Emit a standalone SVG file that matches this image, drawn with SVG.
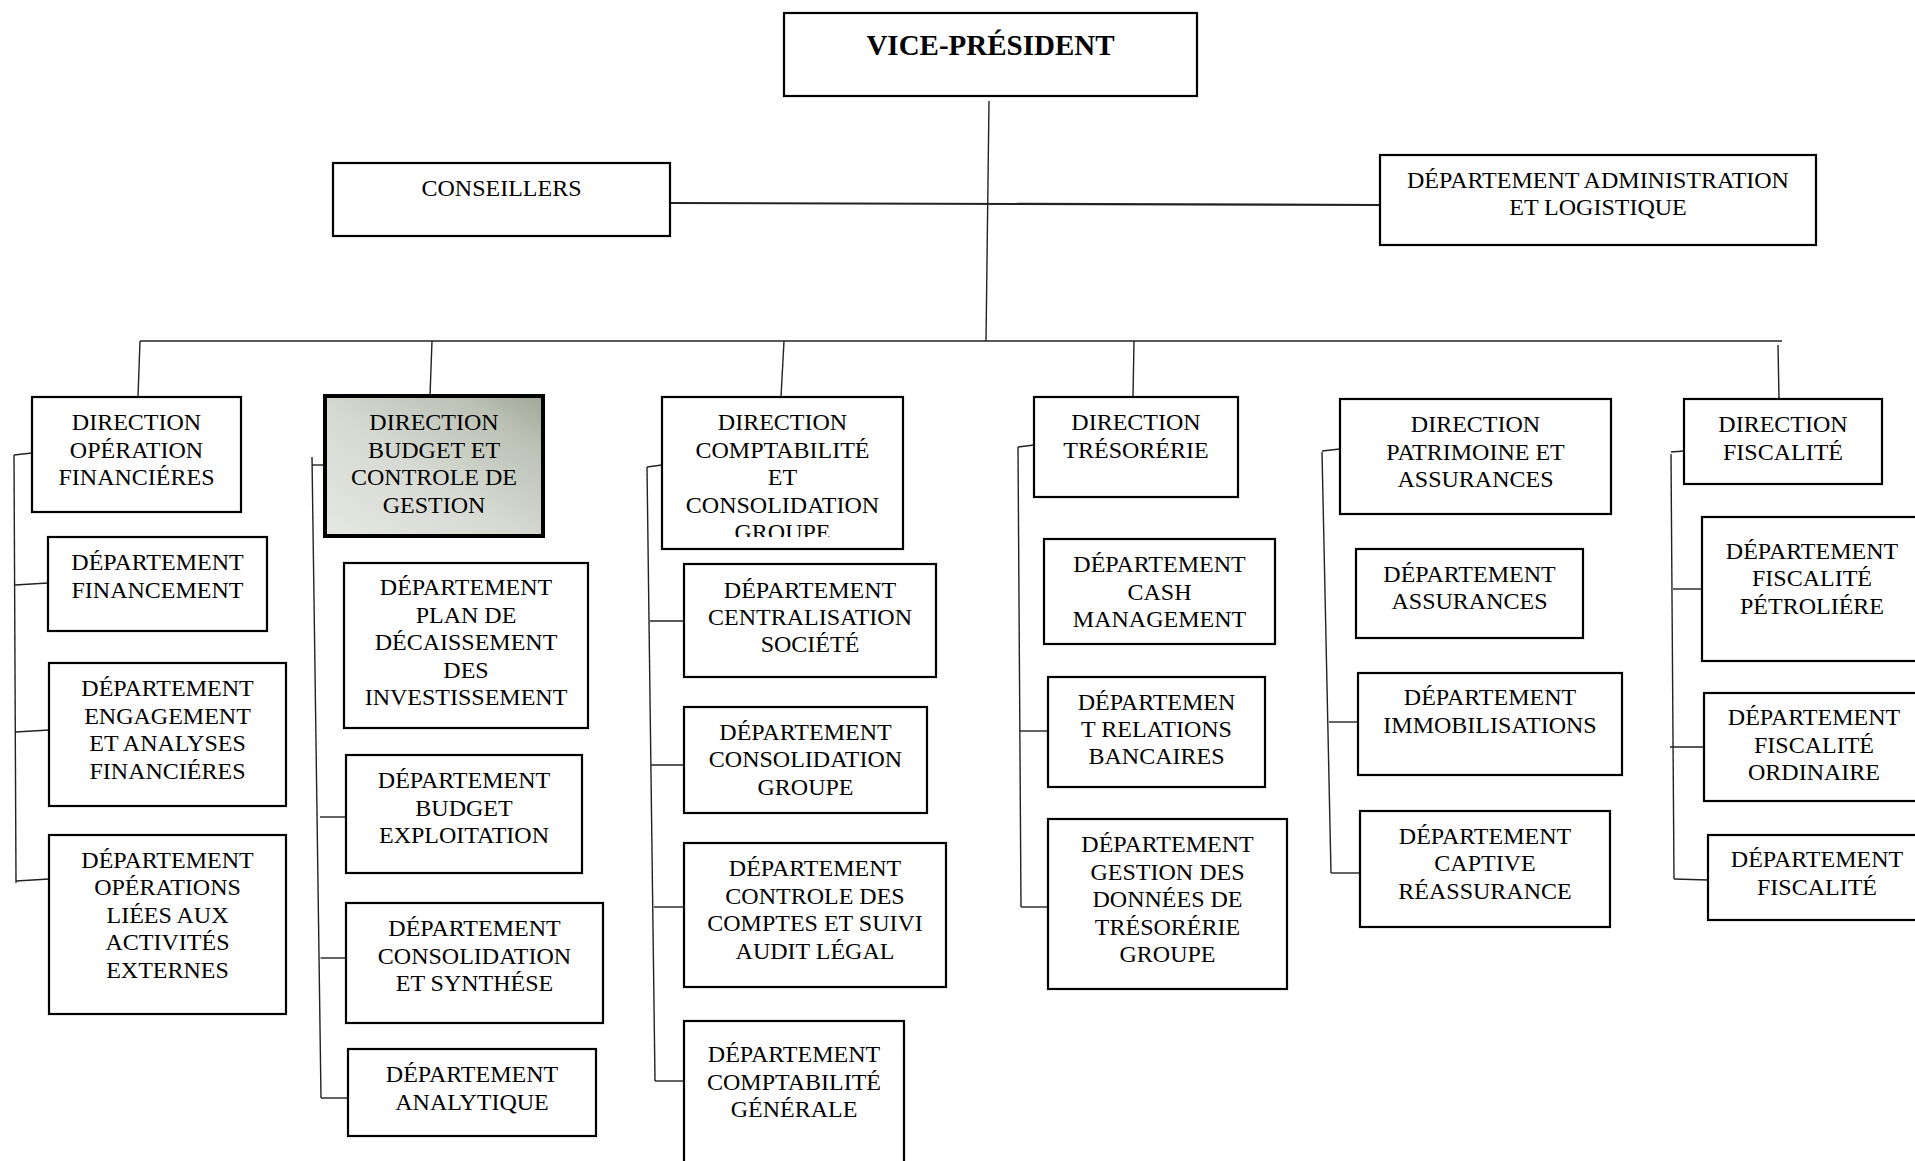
<svg xmlns="http://www.w3.org/2000/svg" width="1915" height="1161" viewBox="0 0 1915 1161">
  <style>
    .box { fill: #ffffff; stroke: #000000; stroke-width: 2.2; }
    .hl { fill: url(#hlGrad); stroke: #000000; stroke-width: 4; }
    .t { font-family: "Liberation Serif", "Times New Roman", serif; font-size: 24px; fill: #000000; text-anchor: middle; }
    .tb { font-family: "Liberation Serif", "Times New Roman", serif; font-size: 29px; font-weight: bold; fill: #000000; text-anchor: middle; }
    .ln { fill: none; stroke: #222222; stroke-width: 1.4; }
    .ln2 { fill: none; stroke: #222222; stroke-width: 2.2; }
  </style>
  <defs>
    <linearGradient id="hlGrad" x1="0" y1="1" x2="1" y2="0">
      <stop offset="0" stop-color="#e6e8e3"/>
      <stop offset="0.45" stop-color="#d6dad2"/>
      <stop offset="0.8" stop-color="#bcc2b6"/>
      <stop offset="1" stop-color="#9fa796"/>
    </linearGradient>
    <clipPath id="clipD3">
      <rect x="662" y="397" width="241" height="140"/>
    </clipPath>
  </defs>
  <rect x="0" y="0" width="1915" height="1161" fill="#ffffff"/>

  <!-- connectors -->
  <g id="connectors">
    <line class="ln" x1="989" y1="101" x2="986" y2="341"/>
    <line class="ln2" x1="670" y1="203" x2="1380" y2="205"/>
    <line class="ln" x1="140" y1="341" x2="1782" y2="341"/>
    <line class="ln" x1="140" y1="341" x2="138" y2="397"/>
    <line class="ln" x1="432" y1="341" x2="430" y2="396"/>
    <line class="ln" x1="784" y1="341" x2="781" y2="397"/>
    <line class="ln" x1="1134" y1="341" x2="1133" y2="397"/>
    <line class="ln" x1="1778" y1="345" x2="1779" y2="399"/>

    <!-- branch 1 -->
    <line class="ln" x1="14" y1="455" x2="16" y2="883"/>
    <line class="ln" x1="14" y1="455" x2="32" y2="453"/>
    <line class="ln" x1="15" y1="585" x2="48" y2="583"/>
    <line class="ln" x1="15.5" y1="732" x2="49" y2="730"/>
    <line class="ln" x1="16" y1="881" x2="49" y2="879"/>

    <!-- branch 2 -->
    <line class="ln" x1="312" y1="457" x2="321" y2="1098"/>
    <line class="ln" x1="312" y1="465" x2="325" y2="465"/>
    <line class="ln" x1="320" y1="817" x2="346" y2="817"/>
    <line class="ln" x1="320.5" y1="958" x2="346" y2="958"/>
    <line class="ln" x1="321" y1="1098" x2="348" y2="1098"/>

    <!-- branch 3 -->
    <line class="ln" x1="647" y1="467" x2="655" y2="1081"/>
    <line class="ln" x1="647" y1="467" x2="662" y2="465"/>
    <line class="ln" x1="650" y1="621" x2="684" y2="621"/>
    <line class="ln" x1="651" y1="765" x2="684" y2="765"/>
    <line class="ln" x1="654" y1="907" x2="684" y2="907"/>
    <line class="ln" x1="655" y1="1081" x2="684" y2="1081"/>

    <!-- branch 4 -->
    <line class="ln" x1="1018" y1="447" x2="1021" y2="907"/>
    <line class="ln" x1="1018" y1="447" x2="1034" y2="445"/>
    <line class="ln" x1="1020" y1="731" x2="1048" y2="731"/>
    <line class="ln" x1="1021" y1="907" x2="1048" y2="907"/>

    <!-- branch 5 -->
    <line class="ln" x1="1322" y1="452" x2="1331" y2="873"/>
    <line class="ln" x1="1322" y1="451" x2="1340" y2="449"/>
    <line class="ln" x1="1329" y1="722" x2="1358" y2="722"/>
    <line class="ln" x1="1331" y1="873" x2="1360" y2="873"/>

    <!-- branch 6 -->
    <line class="ln" x1="1671" y1="454" x2="1674" y2="879"/>
    <line class="ln" x1="1671" y1="452" x2="1684" y2="451"/>
    <line class="ln" x1="1673" y1="589" x2="1702" y2="589"/>
    <line class="ln" x1="1670" y1="747" x2="1704" y2="747"/>
    <line class="ln" x1="1674" y1="879" x2="1708" y2="880"/>
  </g>

  <!-- top level -->
  <g id="vice-president">
    <rect class="box" x="784" y="13" width="413" height="83"/>
    <text class="tb" x="990.5" y="55">VICE-PRÉSIDENT</text>
  </g>
  <g id="conseillers">
    <rect class="box" x="333" y="163" width="337" height="73"/>
    <text class="t" x="501.5" y="196">CONSEILLERS</text>
  </g>
  <g id="dept-administration">
    <rect class="box" x="1380" y="155" width="436" height="90"/>
    <text class="t" x="1598" y="188">DÉPARTEMENT ADMINISTRATION</text>
    <text class="t" x="1598" y="215">ET LOGISTIQUE</text>
  </g>

  <!-- directions -->
  <g id="dir-operations">
    <rect class="box" x="32" y="397" width="209" height="115"/>
    <text class="t" x="136.5"><tspan x="136.5" y="430">DIRECTION</tspan><tspan x="136.5" y="457.5">OPÉRATION</tspan><tspan x="136.5" y="485">FINANCIÉRES</tspan></text>
  </g>
  <g id="dir-budget">
    <rect class="hl" x="325" y="396" width="218" height="140"/>
    <text class="t" x="434"><tspan x="434" y="430">DIRECTION</tspan><tspan x="434" y="457.5">BUDGET ET</tspan><tspan x="434" y="485">CONTROLE DE</tspan><tspan x="434" y="512.5">GESTION</tspan></text>
  </g>
  <g id="dir-comptabilite">
    <rect class="box" x="662" y="397" width="241" height="152"/>
    <text class="t" x="782.5" clip-path="url(#clipD3)"><tspan x="782.5" y="430">DIRECTION</tspan><tspan x="782.5" y="457.5">COMPTABILITÉ</tspan><tspan x="782.5" y="485">ET</tspan><tspan x="782.5" y="512.5">CONSOLIDATION</tspan><tspan x="782.5" y="540">GROUPE</tspan></text>
  </g>
  <g id="dir-tresorerie">
    <rect class="box" x="1034" y="397" width="204" height="100"/>
    <text class="t" x="1136"><tspan x="1136" y="430">DIRECTION</tspan><tspan x="1136" y="457.5">TRÉSORÉRIE</tspan></text>
  </g>
  <g id="dir-patrimoine">
    <rect class="box" x="1340" y="399" width="271" height="115"/>
    <text class="t" x="1475.5"><tspan x="1475.5" y="432">DIRECTION</tspan><tspan x="1475.5" y="459.5">PATRIMOINE ET</tspan><tspan x="1475.5" y="487">ASSURANCES</tspan></text>
  </g>
  <g id="dir-fiscalite">
    <rect class="box" x="1684" y="399" width="198" height="85"/>
    <text class="t" x="1783"><tspan x="1783" y="432">DIRECTION</tspan><tspan x="1783" y="459.5">FISCALITÉ</tspan></text>
  </g>

  <!-- departments under operations -->
  <g id="dept-financement">
    <rect class="box" x="48" y="537" width="219" height="94"/>
    <text class="t" x="157.5"><tspan x="157.5" y="570">DÉPARTEMENT</tspan><tspan x="157.5" y="597.5">FINANCEMENT</tspan></text>
  </g>
  <g id="dept-engagement">
    <rect class="box" x="49" y="663" width="237" height="143"/>
    <text class="t" x="167.5"><tspan x="167.5" y="696">DÉPARTEMENT</tspan><tspan x="167.5" y="723.5">ENGAGEMENT</tspan><tspan x="167.5" y="751">ET ANALYSES</tspan><tspan x="167.5" y="778.5">FINANCIÉRES</tspan></text>
  </g>
  <g id="dept-operations-externes">
    <rect class="box" x="49" y="835" width="237" height="179"/>
    <text class="t" x="167.5"><tspan x="167.5" y="867.5">DÉPARTEMENT</tspan><tspan x="167.5" y="895">OPÉRATIONS</tspan><tspan x="167.5" y="922.5">LIÉES AUX</tspan><tspan x="167.5" y="950">ACTIVITÉS</tspan><tspan x="167.5" y="977.5">EXTERNES</tspan></text>
  </g>

  <!-- departments under budget -->
  <g id="dept-plan-decaissement">
    <rect class="box" x="344" y="563" width="244" height="165"/>
    <text class="t" x="466"><tspan x="466" y="595">DÉPARTEMENT</tspan><tspan x="466" y="622.5">PLAN DE</tspan><tspan x="466" y="650">DÉCAISSEMENT</tspan><tspan x="466" y="677.5">DES</tspan><tspan x="466" y="705">INVESTISSEMENT</tspan></text>
  </g>
  <g id="dept-budget-exploitation">
    <rect class="box" x="346" y="755" width="236" height="118"/>
    <text class="t" x="464"><tspan x="464" y="788">DÉPARTEMENT</tspan><tspan x="464" y="815.5">BUDGET</tspan><tspan x="464" y="843">EXPLOITATION</tspan></text>
  </g>
  <g id="dept-consolidation-synthese">
    <rect class="box" x="346" y="903" width="257" height="120"/>
    <text class="t" x="474.5"><tspan x="474.5" y="936">DÉPARTEMENT</tspan><tspan x="474.5" y="963.5">CONSOLIDATION</tspan><tspan x="474.5" y="991">ET SYNTHÉSE</tspan></text>
  </g>
  <g id="dept-analytique">
    <rect class="box" x="348" y="1049" width="248" height="87"/>
    <text class="t" x="472"><tspan x="472" y="1082">DÉPARTEMENT</tspan><tspan x="472" y="1109.5">ANALYTIQUE</tspan></text>
  </g>

  <!-- departments under comptabilite -->
  <g id="dept-centralisation">
    <rect class="box" x="684" y="564" width="252" height="113"/>
    <text class="t" x="810"><tspan x="810" y="597.5">DÉPARTEMENT</tspan><tspan x="810" y="625">CENTRALISATION</tspan><tspan x="810" y="652">SOCIÉTÉ</tspan></text>
  </g>
  <g id="dept-consolidation-groupe">
    <rect class="box" x="684" y="707" width="243" height="106"/>
    <text class="t" x="805.5"><tspan x="805.5" y="739.5">DÉPARTEMENT</tspan><tspan x="805.5" y="767">CONSOLIDATION</tspan><tspan x="805.5" y="794.5">GROUPE</tspan></text>
  </g>
  <g id="dept-controle-comptes">
    <rect class="box" x="684" y="843" width="262" height="144"/>
    <text class="t" x="815"><tspan x="815" y="876">DÉPARTEMENT</tspan><tspan x="815" y="903.5">CONTROLE DES</tspan><tspan x="815" y="931">COMPTES ET SUIVI</tspan><tspan x="815" y="958.5">AUDIT LÉGAL</tspan></text>
  </g>
  <g id="dept-comptabilite-generale">
    <rect class="box" x="684" y="1021" width="220" height="160"/>
    <text class="t" x="794"><tspan x="794" y="1062">DÉPARTEMENT</tspan><tspan x="794" y="1089.5">COMPTABILITÉ</tspan><tspan x="794" y="1117">GÉNÉRALE</tspan></text>
  </g>

  <!-- departments under tresorerie -->
  <g id="dept-cash-management">
    <rect class="box" x="1044" y="539" width="231" height="105"/>
    <text class="t" x="1159.5"><tspan x="1159.5" y="572">DÉPARTEMENT</tspan><tspan x="1159.5" y="599.5">CASH</tspan><tspan x="1159.5" y="627">MANAGEMENT</tspan></text>
  </g>
  <g id="dept-relations-bancaires">
    <rect class="box" x="1048" y="677" width="217" height="110"/>
    <text class="t" x="1156.5"><tspan x="1156.5" y="709.5">DÉPARTEMEN</tspan><tspan x="1156.5" y="737">T RELATIONS</tspan><tspan x="1156.5" y="764">BANCAIRES</tspan></text>
  </g>
  <g id="dept-donnees-tresorerie">
    <rect class="box" x="1048" y="819" width="239" height="170"/>
    <text class="t" x="1167.5"><tspan x="1167.5" y="852">DÉPARTEMENT</tspan><tspan x="1167.5" y="879.5">GESTION DES</tspan><tspan x="1167.5" y="907">DONNÉES DE</tspan><tspan x="1167.5" y="934.5">TRÉSORÉRIE</tspan><tspan x="1167.5" y="962">GROUPE</tspan></text>
  </g>

  <!-- departments under patrimoine -->
  <g id="dept-assurances">
    <rect class="box" x="1356" y="549" width="227" height="89"/>
    <text class="t" x="1469.5"><tspan x="1469.5" y="582">DÉPARTEMENT</tspan><tspan x="1469.5" y="609">ASSURANCES</tspan></text>
  </g>
  <g id="dept-immobilisations">
    <rect class="box" x="1358" y="673" width="264" height="102"/>
    <text class="t" x="1490"><tspan x="1490" y="705">DÉPARTEMENT</tspan><tspan x="1490" y="732.5">IMMOBILISATIONS</tspan></text>
  </g>
  <g id="dept-captive">
    <rect class="box" x="1360" y="811" width="250" height="116"/>
    <text class="t" x="1485"><tspan x="1485" y="843.5">DÉPARTEMENT</tspan><tspan x="1485" y="871">CAPTIVE</tspan><tspan x="1485" y="898.5">RÉASSURANCE</tspan></text>
  </g>

  <!-- departments under fiscalite -->
  <g id="dept-fiscalite-petroliere">
    <rect class="box" x="1702" y="517" width="220" height="144"/>
    <text class="t" x="1812"><tspan x="1812" y="558.5">DÉPARTEMENT</tspan><tspan x="1812" y="586">FISCALITÉ</tspan><tspan x="1812" y="613.5">PÉTROLIÉRE</tspan></text>
  </g>
  <g id="dept-fiscalite-ordinaire">
    <rect class="box" x="1704" y="693" width="220" height="108"/>
    <text class="t" x="1814"><tspan x="1814" y="725">DÉPARTEMENT</tspan><tspan x="1814" y="752.5">FISCALITÉ</tspan><tspan x="1814" y="780">ORDINAIRE</tspan></text>
  </g>
  <g id="dept-fiscalite">
    <rect class="box" x="1708" y="835" width="220" height="85"/>
    <text class="t" x="1817"><tspan x="1817" y="867">DÉPARTEMENT</tspan><tspan x="1817" y="894.5">FISCALITÉ</tspan></text>
  </g>
</svg>
